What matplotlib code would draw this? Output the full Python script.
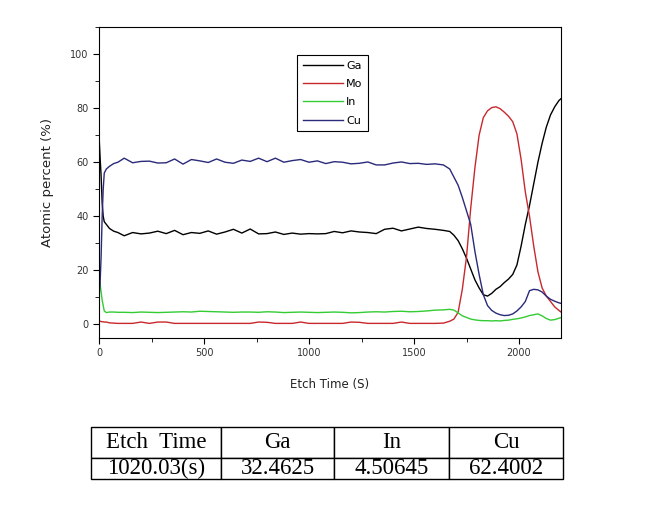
import matplotlib.pyplot as plt
from matplotlib.ticker import MultipleLocator

time = [0, 5, 10, 15, 20, 25, 35, 50, 70, 90,
        120, 160, 200, 240, 280, 320, 360, 400, 440, 480,
        520, 560, 600, 640, 680, 720, 760, 800, 840, 880,
        920, 960, 1000, 1040, 1080, 1120, 1160, 1200, 1240, 1280,
        1320, 1360, 1400, 1440, 1480, 1520, 1560, 1600, 1640,
        1670, 1690, 1710, 1730, 1750, 1770, 1790, 1810, 1830, 1850,
        1870, 1890, 1910, 1930, 1950, 1970, 1990, 2010, 2030, 2050,
        2070, 2090, 2110, 2130, 2150, 2170, 2190, 2200]

ga = [70, 62, 55, 45, 40, 38, 37, 35.5, 34.5, 34,
      32.8, 34, 33.5, 33.8, 34.5, 33.6, 34.8, 33.2, 34, 33.7,
      34.6, 33.4, 34.2, 35.2, 33.8, 35.3, 33.5, 33.6, 34.2, 33.3,
      33.8, 33.4, 33.6, 33.5, 33.6, 34.4, 33.9, 34.6, 34.2, 34,
      33.6, 35.2, 35.6, 34.6, 35.3, 36, 35.5, 35.2, 34.8,
      34.4, 33, 31, 28, 24.5, 20.5, 16.5, 13.5, 11, 10.5,
      11.5, 13, 14, 15.5, 16.8, 18.5, 22, 29, 37, 44,
      52, 60, 67, 73, 77.5, 80.5, 82.8, 83.5]

mo = [1.2, 1.2, 1.1, 1.0, 1.0, 0.9, 0.9, 0.6, 0.5, 0.4,
      0.4, 0.4, 0.9, 0.4, 0.9, 0.9, 0.4, 0.4, 0.4, 0.4,
      0.4, 0.4, 0.4, 0.4, 0.4, 0.4, 0.9, 0.8, 0.4, 0.4,
      0.4, 0.9, 0.4, 0.4, 0.4, 0.4, 0.4, 0.9, 0.8, 0.4,
      0.4, 0.4, 0.4, 0.9, 0.4, 0.4, 0.4, 0.4, 0.5,
      1.2, 2, 4.5, 13, 25, 43, 58, 70, 76.5, 79,
      80.2, 80.5, 79.8, 78.5, 77, 75, 70.5, 61, 49, 40,
      29, 19.5, 13.5, 10.5, 8.5, 6.5, 5.2, 4.6]

in_ = [17, 15, 12, 9, 7, 5, 4.4, 4.6, 4.6, 4.5,
       4.5, 4.4, 4.6, 4.5, 4.4, 4.5, 4.6, 4.7, 4.6, 4.9,
       4.8, 4.7, 4.6, 4.5, 4.6, 4.6, 4.5, 4.7, 4.6, 4.4,
       4.5, 4.6, 4.5, 4.4, 4.5, 4.6, 4.5, 4.3, 4.4, 4.6,
       4.7, 4.6, 4.8, 4.9, 4.7, 4.8, 5.0, 5.3, 5.4,
       5.6, 5.3, 4.3, 3.2, 2.6, 2.0, 1.7, 1.5, 1.4, 1.4,
       1.3, 1.4, 1.3, 1.5, 1.6, 1.9, 2.1, 2.4, 2.8, 3.3,
       3.6, 3.9, 3.2, 2.2, 1.6, 1.8, 2.3, 2.5]

cu = [10, 15, 25, 40, 50, 56, 57.5, 58.5, 59.5, 60,
      61.5, 59.8, 60.3, 60.4, 59.7, 59.8, 61.2, 59.3, 61.0, 60.5,
      59.9, 61.2, 60.0, 59.6, 60.8, 60.3, 61.5, 60.2, 61.5, 60.0,
      60.6, 61.0, 60.0, 60.5, 59.5, 60.2, 60.0, 59.4, 59.6, 60.1,
      59.0, 59.0, 59.7, 60.1, 59.5, 59.6, 59.2, 59.4, 59.0,
      57.5, 54.5, 51.5, 47, 42, 37, 27, 18.5, 11, 7,
      5.2, 4.2, 3.6, 3.3, 3.4, 3.9, 5, 6.5, 8.5, 12.5,
      13, 12.8, 12, 10.5, 9.3, 8.6, 8, 7.8]

table_header = ['Etch  Time', 'Ga', 'In', 'Cu']
table_values = ['1020.03(s)', '32.4625', '4.50645', '62.4002']

fig = plt.figure(figsize=(6.45, 5.05), dpi=100)
ax = fig.add_axes([0.1535, 0.3307, 0.7163, 0.6158])

ax.plot(time, ga, color='black', lw=1, label='Ga')
ax.plot(time, mo, color='#c8282d', lw=1, label='Mo')
ax.plot(time, in_, color='#33cc33', lw=1, label='In')
ax.plot(time, cu, color='#2a2a7a', lw=1, label='Cu')

ax.set_xlim(0, 2200)
ax.set_ylim(-5, 110)
ax.xaxis.set_major_locator(MultipleLocator(500))
ax.xaxis.set_minor_locator(MultipleLocator(250))
ax.yaxis.set_major_locator(MultipleLocator(20))
ax.yaxis.set_minor_locator(MultipleLocator(10))
ax.tick_params(which='major', direction='out', length=4, labelsize=7, labelcolor='#333333')
ax.tick_params(which='minor', direction='out', length=3)
ax.set_xlabel('Etch Time (S)', fontsize=8.5, color='#222222', labelpad=14)
ax.set_ylabel('Atomic percent (%)', fontsize=9.5, color='#222222', labelpad=12)

leg = ax.legend(loc='upper left', bbox_to_anchor=(0.4286, 0.91), borderaxespad=0,
                fontsize=8, fancybox=False, edgecolor='black', framealpha=1,
                handlelength=3.6, handletextpad=0.3, labelspacing=0.75,
                borderpad=0.5)
leg.get_frame().set_linewidth(0.8)

tbl = ax.table(cellText=[table_values], colLabels=table_header, cellLoc='center',
               colWidths=[130, 113, 115, 114],
               bbox=[-0.0173, -0.4534, 1.0216, 0.1672])
tbl.auto_set_font_size(False)
for (r, c), cell in tbl.get_celld().items():
    cell.set_height(31 if r == 0 else 21)
    cell.set_linewidth(1)
    cell.get_text().set_fontfamily('Liberation Serif')
    cell.get_text().set_fontsize(16.5)

fig.savefig('out.png', dpi=100)
